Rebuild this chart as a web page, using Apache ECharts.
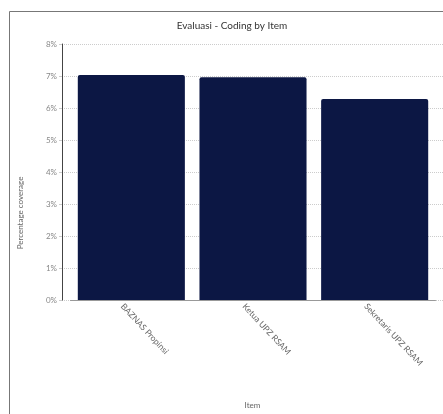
<!DOCTYPE html>
<html>
<head>
<meta charset="utf-8">
<script src="https://cdn.jsdelivr.net/npm/echarts@6/dist/echarts.min.js"></script>
<style>
html,body{margin:0;padding:0;background:#fff;}
#c{width:443px;height:414px;}
</style>
</head>
<body>
<div id="c"></div>
<script>
const categories = ['BAZNAS Propinsi', 'Ketua UPZ RSAM', 'Sekretaris UPZ RSAM'];
const coverage = [7.03, 6.96, 6.28];
const yTicks = [0, 1, 2, 3, 4, 5, 6, 7, 8];
const titleText = 'Evaluasi - Coding by Item';
const yName = 'Percentage coverage';
const xName = 'Item';

const FONT = 'Lato';
const chart = echarts.init(document.getElementById('c'), null, {renderer: 'canvas'});
chart.setOption({
  animation: false,
  backgroundColor: '#fff',
  title: {
    text: titleText, left: 227, top: 16, textAlign: 'center',
    textStyle: {fontFamily: FONT, fontSize: 10, fontWeight: 'normal', color: '#333'}
  },
  graphic: [
    {type: 'rect', shape: {x: 9.5, y: 11.5, width: 600, height: 600},
     style: {fill: null, stroke: '#777', lineWidth: 1}, silent: true},
    {type: 'text', x: 20, y: 213, rotation: Math.PI / 2,
     style: {text: yName, fontFamily: FONT, fontSize: 8, fill: '#666', align: 'center', verticalAlign: 'middle'}}
  ],
  grid: [
    {left: 62, top: 44, width: 381, height: 256},
    {left: 70.5, top: 44, width: 365, height: 256},
    {left: 61.5, top: 44, width: 365, height: 256}
  ],
  xAxis: [
    {type: 'value', gridIndex: 0, show: false, min: 0, max: 1},
    {type: 'category', gridIndex: 1, data: categories,
     axisLine: {show: true, lineStyle: {color: '#999', width: 1}},
     axisTick: {show: false}, axisLabel: {show: false}},
    {type: 'category', gridIndex: 2, data: categories,
     axisLine: {show: false}, axisTick: {show: false},
     axisLabel: {rotate: -47, margin: 21, fontFamily: FONT, fontSize: 8.5, color: '#666', interval: 0},
     name: xName, nameLocation: 'middle', nameGap: 117,
     nameTextStyle: {fontFamily: FONT, fontSize: 8, color: '#666', padding: [0, 0, 0, 17]}}
  ],
  yAxis: [
    {type: 'value', gridIndex: 0, min: yTicks[0], max: yTicks[yTicks.length - 1], interval: 1,
     axisLine: {show: true, lineStyle: {color: '#444', width: 1}},
     axisTick: {show: true, length: 3, lineStyle: {color: '#ccc'}},
     axisLabel: {formatter: '{value}%', fontFamily: FONT, fontSize: 8, color: '#888', margin: 5},
     splitLine: {show: true, lineStyle: {color: '#ccc', type: [1, 1], width: 1}}},
    {type: 'value', gridIndex: 1, min: yTicks[0], max: yTicks[yTicks.length - 1], show: false},
    {type: 'value', gridIndex: 2, min: yTicks[0], max: yTicks[yTicks.length - 1], show: false}
  ],
  series: [{
    type: 'bar', xAxisIndex: 1, yAxisIndex: 1, data: coverage,
    barCategoryGap: '12%',
    itemStyle: {color: '#0c1744', borderRadius: [2, 2, 0, 0]}
  }]
});
</script>
</body>
</html>
